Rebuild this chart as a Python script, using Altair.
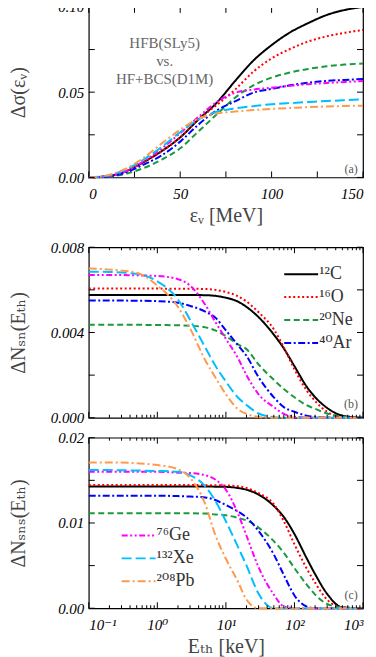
import altair as alt
import pandas as pd

FONT = "Liberation Serif, DejaVu Serif, DejaVu Sans"
W, H = 275, 171

nuclei = ["¹²C", "¹⁶O", "²⁰Ne", "⁴⁰Ar", "⁷⁶Ge", "¹³²Xe", "²⁰⁸Pb"]
line_colors = ["#000000", "#FF0000", "#1A9A3C", "#0000FF", "#FF00FF", "#00BFFF", "#FF9A4D"]
line_dashes = [[1, 0], [2, 2.5], [6, 3.5], [7, 2.5, 2, 2.5], [6, 2.5, 2, 2.5, 2, 2.5], [10, 4], [8, 3, 2, 3]]

# ---- panel (a): Delta sigma vs neutrino energy [MeV]
eps_nu = [0, 10, 20, 30, 40, 50, 60, 70, 80, 90, 100, 110, 120, 130, 140, 150]
dsig_C = [0, 0.0008, 0.0035, 0.009, 0.0155, 0.0235, 0.034, 0.0438, 0.0565, 0.0685, 0.0776, 0.085, 0.0905, 0.0952, 0.0982, 0.100]
dsig_O = [0, 0.0008, 0.0035, 0.009, 0.0155, 0.0235, 0.034, 0.0425, 0.0515, 0.062, 0.0698, 0.0753, 0.0797, 0.0827, 0.0848, 0.0865]
dsig_Ne = [0, 0.0005, 0.002, 0.0055, 0.0105, 0.0171, 0.027, 0.037, 0.0467, 0.054, 0.0585, 0.0615, 0.0636, 0.0652, 0.0662, 0.0668]
dsig_Ar = [0, 0.0006, 0.0028, 0.0075, 0.013, 0.021, 0.031, 0.0393, 0.0446, 0.0497, 0.0519, 0.054, 0.0555, 0.0566, 0.0572, 0.0577]
dsig_Ge = [0, 0.0008, 0.0035, 0.0095, 0.017, 0.026, 0.0355, 0.0442, 0.0496, 0.0515, 0.0526, 0.0537, 0.0547, 0.0554, 0.056, 0.0565]
dsig_Xe = [0, 0.001, 0.0045, 0.0105, 0.018, 0.0265, 0.034, 0.0385, 0.0405, 0.0418, 0.0429, 0.0436, 0.0442, 0.0448, 0.0453, 0.0458]
dsig_Pb = [0, 0.0012, 0.005, 0.0115, 0.020, 0.028, 0.0345, 0.0375, 0.0386, 0.0395, 0.0402, 0.0407, 0.0412, 0.0416, 0.0419, 0.0421]

# ---- panels (b), (c): threshold energy [keV]
E_th = [0.1, 0.2, 0.5, 1, 2, 3, 5, 7, 10, 15, 20, 30, 50, 70, 100, 150, 200, 300, 500, 1000]
# (b) supernova
nsn_C = [0.00576, 0.00576, 0.00576, 0.00576, 0.00576, 0.00576, 0.00575, 0.00572, 0.00563, 0.00545, 0.0052, 0.00472, 0.0039, 0.00325, 0.00242, 0.00147, 0.00097, 0.00046, 0.0001, 0.0]
nsn_O = [0.00606, 0.00606, 0.00606, 0.00606, 0.00605, 0.00605, 0.00604, 0.00600, 0.0059, 0.0057, 0.00545, 0.00495, 0.00415, 0.0033, 0.00227, 0.00129, 0.00079, 0.00028, 0.00002, 0.0]
nsn_Ne = [0.00436, 0.00436, 0.00436, 0.00435, 0.00434, 0.00432, 0.00424, 0.0041, 0.00383, 0.00344, 0.00322, 0.0025, 0.00178, 0.00135, 0.00096, 0.00059, 0.00042, 0.0002, 0.00005, 0.0]
nsn_Ar = [0.0055, 0.0055, 0.00549, 0.00547, 0.0054, 0.00525, 0.00498, 0.0047, 0.0041, 0.0034, 0.0029, 0.0019, 0.00096, 0.0005, 0.00028, 0.0001, 0.00004, 0.00001, 0.0, 0.0]
nsn_Ge = [0.0067, 0.0067, 0.00668, 0.00665, 0.0065, 0.0062, 0.0053, 0.0045, 0.0037, 0.0028, 0.0020, 0.0011, 0.0005, 0.00018, 0.00006, 0.00001, 0.0, 0.0, 0.0, 0.0]
nsn_Xe = [0.00685, 0.00684, 0.00675, 0.0064, 0.00555, 0.0046, 0.0033, 0.00245, 0.0017, 0.00095, 0.0006, 0.0002, 0.00003, 0.0, 0.0, 0.0, 0.0, 0.0, 0.0, 0.0]
nsn_Pb = [0.0070, 0.00695, 0.0068, 0.0062, 0.0052, 0.0042, 0.0027, 0.0019, 0.0011, 0.0004, 0.00018, 0.00004, 0.0, 0.0, 0.0, 0.0, 0.0, 0.0, 0.0, 0.0]
# (c) spallation neutron source
nsns_C = [0.01427, 0.01427, 0.01427, 0.01427, 0.01427, 0.01427, 0.01427, 0.01426, 0.01424, 0.0141, 0.0139, 0.01333, 0.0120, 0.0107, 0.0087, 0.0059, 0.0040, 0.00168, 0.0001, 0.0]
nsns_O = [0.01446, 0.01446, 0.01446, 0.01446, 0.01446, 0.01445, 0.01444, 0.01442, 0.0144, 0.0143, 0.0141, 0.0135, 0.0122, 0.0102, 0.0075, 0.0047, 0.0030, 0.0010, 0.0001, 0.0]
nsns_Ne = [0.01115, 0.01115, 0.01115, 0.01115, 0.01114, 0.01113, 0.0111, 0.0110, 0.0109, 0.0106, 0.0103, 0.00946, 0.00787, 0.0065, 0.0047, 0.0028, 0.0016, 0.0005, 0.0001, 0.0]
nsns_Ar = [0.0132, 0.0132, 0.0132, 0.0132, 0.01315, 0.0131, 0.0130, 0.0127, 0.0121, 0.01135, 0.01065, 0.00905, 0.0063, 0.0039, 0.0015, 0.0002, 0.0, 0.0, 0.0, 0.0]
nsns_Ge = [0.0160, 0.0160, 0.0160, 0.0160, 0.0159, 0.01585, 0.0156, 0.0151, 0.0139, 0.0111, 0.0085, 0.0048, 0.0016, 0.0002, 0.0, 0.0, 0.0, 0.0, 0.0, 0.0]
nsns_Xe = [0.0162, 0.0162, 0.01615, 0.0161, 0.0160, 0.0156, 0.0143, 0.0126, 0.0102, 0.0072, 0.0050, 0.0017, 0.0, 0.0, 0.0, 0.0, 0.0, 0.0, 0.0, 0.0]
nsns_Pb = [0.0171, 0.0171, 0.0170, 0.0168, 0.0163, 0.0153, 0.0122, 0.0086, 0.0058, 0.0031, 0.0010, 0.0, 0.0, 0.0, 0.0, 0.0, 0.0, 0.0, 0.0, 0.0]

# ---- ticks and labels
a_x_ticks = [0, 25, 50, 75, 100, 125, 150]
a_x_labels = [0, 50, 100, 150]
a_y_ticks = [0, 0.025, 0.05, 0.075, 0.1]
a_y_labels = [0, 0.05, 0.1]
log_major = [0.1, 1, 10, 100, 1000]
log_minor = [0.2, 0.3, 0.4, 0.5, 0.6, 0.7, 0.8, 0.9, 2, 3, 4, 5, 6, 7, 8, 9,
             20, 30, 40, 50, 60, 70, 80, 90, 200, 300, 400, 500, 600, 700, 800, 900]
b_y_ticks = [0, 0.002, 0.004, 0.006, 0.008]
b_y_labels = [0, 0.004, 0.008]
c_y_ticks = [0, 0.005, 0.01, 0.015, 0.02]
c_y_labels = [0, 0.01, 0.02]

note_lines = ["HFB(SLy5)", "vs.", "HF+BCS(D1M)"]
note_x = [41.5, 41.5, 41.5]
note_y = [0.079, 0.068, 0.058]

log_label_expr = ("datum.value < 0.5 ? '10⁻¹' : datum.value < 5 ? '10⁰' : "
                  "datum.value < 50 ? '10¹' : datum.value < 500 ? '10²' : '10³'")

AX = dict(labelFont=FONT, labelFontStyle="italic", labelFontSize=15, labelColor="black",
          titleFont=FONT, titleFontSize=20, titleColor="#444", titleFontWeight="normal",
          titleFontStyle="normal", grid=False, domain=False, ticks=False)


def long_df(xs, series):
    rows = []
    for name, ys in zip(nuclei, series):
        for x, y in zip(xs, ys):
            rows.append({"x": x, "y": y, "nucleus": name})
    return pd.DataFrame(rows)


def yaxis(title, values, fmt):
    return alt.Axis(title=title, values=values, format=fmt, labelPadding=5,
                    titleX=-70, titleY=H / 2, titleBaseline="middle", titleAngle=-90, **AX)


def make_legend(vals, lx, ly):
    return alt.Legend(values=vals, orient="none", legendX=lx, legendY=ly, title=None,
                      symbolType="M-24,0H10", symbolSize=4, symbolStrokeWidth=2,
                      labelOffset=2, rowPadding=5, padding=0,
                      labelFont=FONT, labelFontSize=18, labelColor="#333")


def panel(df, X, Y, x_major, x_minor, y_ticks, legend, tag, tag_y, extra=None):
    cscale = alt.Scale(domain=nuclei, range=line_colors)
    dscale = alt.Scale(domain=nuclei, range=line_dashes)
    lines = alt.Chart(df).mark_line(strokeWidth=2, interpolate="monotone").encode(
        x=X, y=Y,
        color=alt.Color("nucleus:N", scale=cscale, legend=legend, sort=nuclei),
        strokeDash=alt.StrokeDash("nucleus:N", scale=dscale, legend=legend, sort=nuclei),
    )
    layers = [lines]

    def xt(vals, L):
        base = alt.Chart(pd.DataFrame({"x": vals})).mark_rule(color="black", strokeWidth=1)
        return [base.encode(x=X, y=alt.value(H), y2=alt.value(H - L)),
                base.encode(x=X, y=alt.value(0), y2=alt.value(L))]

    layers += xt(x_major, 6)
    if x_minor:
        layers += xt(x_minor, 3)
    ybase = alt.Chart(pd.DataFrame({"y": y_ticks})).mark_rule(color="black", strokeWidth=1)
    layers += [ybase.encode(y=Y, x=alt.value(0), x2=alt.value(6)),
               ybase.encode(y=Y, x=alt.value(W), x2=alt.value(W - 6))]
    tagc = alt.Chart(pd.DataFrame({"t": [tag]})).mark_text(
        font=FONT, fontSize=12, color="#555").encode(
        text="t:N", x=alt.value(263), y=alt.value(tag_y))
    layers.append(tagc)
    if extra is not None:
        layers.append(extra)
    return alt.layer(*layers).properties(width=W, height=H)


# panel (a)
Xa = alt.X("x:Q", scale=alt.Scale(domain=[0, 150], nice=False),
           axis=alt.Axis(title="εᵥ [MeV]", values=a_x_labels, format="d",
                         labelPadding=9, titlePadding=4, **AX))
Ya = alt.Y("y:Q", scale=alt.Scale(domain=[0, 0.1], nice=False),
           axis=yaxis("Δσ(εᵥ)", a_y_labels, ".2f"))
df_a = long_df(eps_nu, [dsig_C, dsig_O, dsig_Ne, dsig_Ar, dsig_Ge, dsig_Xe, dsig_Pb])
notes = alt.Chart(pd.DataFrame({"x": note_x, "y": note_y, "t": note_lines})).mark_text(
    font=FONT, fontSize=15, color="#666").encode(x=Xa, y=Ya, text="t:N")
pa = panel(df_a, Xa, Ya, a_x_ticks, None, a_y_ticks, None, "(a)", 163, notes)

logscale = alt.Scale(type="log", domain=[0.1, 1000], nice=False)

# panel (b)
Xb = alt.X("x:Q", scale=logscale, axis=alt.Axis(title=None, values=log_major, labels=False, **AX))
Yb = alt.Y("y:Q", scale=alt.Scale(domain=[0, 0.008], nice=False),
           axis=yaxis("ΔNₛₙ(Eₜₕ)", b_y_labels, ".3f"))
df_b = long_df(E_th, [nsn_C, nsn_O, nsn_Ne, nsn_Ar, nsn_Ge, nsn_Xe, nsn_Pb])
pb = panel(df_b, Xb, Yb, log_major, log_minor, b_y_ticks,
           make_legend(nuclei[:4], 211, 18), "(b)", 157)

# panel (c)
Xc = alt.X("x:Q", scale=logscale,
           axis=alt.Axis(title="Eₜₕ [keV]", values=log_major, labelExpr=log_label_expr,
                         labelPadding=9, titlePadding=4, **AX))
Yc = alt.Y("y:Q", scale=alt.Scale(domain=[0, 0.02], nice=False),
           axis=yaxis("ΔNₛₙₛ(Eₜₕ)", c_y_labels, ".2f"))
df_c = long_df(E_th, [nsns_C, nsns_O, nsns_Ne, nsns_Ar, nsns_Ge, nsns_Xe, nsns_Pb])
pc = panel(df_c, Xc, Yc, log_major, log_minor, c_y_ticks,
           make_legend(nuclei[4:], 48, 89), "(c)", 158)

inner = alt.vconcat(pb, pc, spacing=3).resolve_legend(color="independent", strokeDash="independent")
chart = alt.vconcat(pa, inner, spacing=13).resolve_legend(
    color="independent", strokeDash="independent"
).properties(
    padding={"left": 0, "top": -10, "right": 0, "bottom": 0}
).configure_view(
    stroke="black", strokeWidth=1.2
)

chart.save("out.html", embed_options={"renderer": "svg", "actions": False})
